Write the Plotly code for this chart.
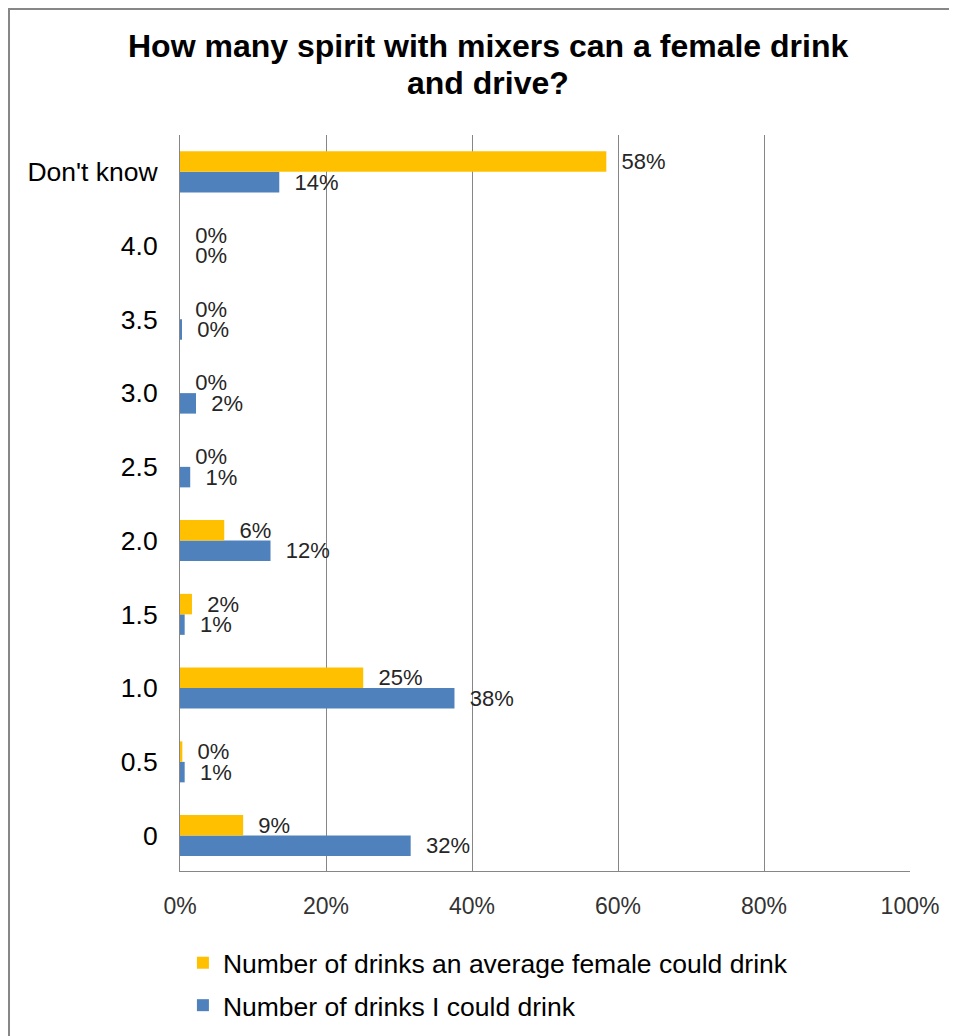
import plotly.graph_objects as go

categories = ["0", "0.5", "1.0", "1.5", "2.0", "2.5", "3.0", "3.5", "4.0", "Don't know"]
female_avg = [8.65, 0.32, 25.1, 1.64, 6.06, 0.0, 0.0, 0.0, 0.0, 58.4]
self_drinks = [31.6, 0.64, 37.6, 0.64, 12.4, 1.4, 2.19, 0.23, 0.0, 13.6]
x_tick_vals = [0, 20, 40, 60, 80, 100]
x_tick_text = ["0%", "20%", "40%", "60%", "80%", "100%"]

series_female = "Number of drinks an average female could drink"
series_self = "Number of drinks I could drink"
title_line1 = "How many spirit with mixers can a female drink"
title_line2 = "and drive?"

FONT = "Liberation Sans, Arial, sans-serif"
NB = "\u00a0\u00a0"


def labels(vals):
    return [f"{NB}{round(v)}%" for v in vals]


fig = go.Figure()
fig.add_trace(go.Bar(
    y=categories, x=self_drinks, orientation="h", name=series_self,
    marker=dict(color="#4F81BD", line=dict(width=0)),
    text=labels(self_drinks), textposition="outside", constraintext="none",
    cliponaxis=False, textfont=dict(family=FONT, size=22, color="#262626"),
    legendgroup="b", legendrank=2,
))
fig.add_trace(go.Bar(
    y=categories, x=female_avg, orientation="h", name=series_female,
    marker=dict(color="#FFC000", line=dict(width=0)),
    text=labels(female_avg), textposition="outside", constraintext="none",
    cliponaxis=False, textfont=dict(family=FONT, size=22, color="#262626"),
    legendgroup="a", legendrank=1,
))

# page body has an 8px margin, so figure coords = screen coords - 8
OFF = 8
W, H = 957 - OFF, 1036 - OFF
L, T = 180 - OFF, 135 - OFF
PW, PH = 730, 736


def py(screen_y):
    return (T + PH - (screen_y - OFF)) / PH


def px(screen_x):
    return (screen_x - OFF - L) / PW


fig.update_layout(
    width=W, height=H,
    margin=dict(l=L, r=W - L - PW, t=T, b=H - T - PH, pad=0, autoexpand=False),
    paper_bgcolor="white", plot_bgcolor="white",
    barmode="group", bargap=0.444, bargroupgap=0,
    xaxis=dict(
        range=[0, 100], tickvals=x_tick_vals, ticktext=x_tick_text,
        showgrid=True, gridcolor="#868686", gridwidth=1,
        zeroline=False, showline=True, linecolor="#868686", linewidth=1,
        ticks="", ticklabelstandoff=14,
        tickfont=dict(family=FONT, size=23, color="#333333"),
        fixedrange=True,
    ),
    yaxis=dict(
        type="category", categoryorder="array", categoryarray=categories,
        range=[-0.48, 9.5], showgrid=False, zeroline=False,
        showline=True, linecolor="#868686", linewidth=1,
        ticks="", ticklabelstandoff=16,
        tickfont=dict(family=FONT, size=26.5, color="black"),
        fixedrange=True,
    ),
    legend=dict(
        orientation="v", x=0.004, xanchor="left",
        yref="container", y=1 - (939 - OFF) / H, yanchor="top",
        traceorder="grouped", tracegroupgap=5,
        font=dict(family=FONT, size=26.5, color="black"),
        bgcolor="rgba(0,0,0,0)",
    ),
    showlegend=True,
    annotations=[
        dict(text=f"<b>{title_line1}</b>", xref="paper", yref="paper",
             x=px(488), y=py(46.4), xanchor="center", yanchor="middle",
             showarrow=False, font=dict(family=FONT, size=32, color="black")),
        dict(text=f"<b>{title_line2}</b>", xref="paper", yref="paper",
             x=px(488), y=py(83.5), xanchor="center", yanchor="middle",
             showarrow=False, font=dict(family=FONT, size=32, color="black")),
    ],
    shapes=[dict(
        type="rect", xref="paper", yref="paper",
        x0=px(9), x1=px(990), y0=py(1080), y1=py(9),
        line=dict(color="#878787", width=2), fillcolor="rgba(0,0,0,0)", layer="below",
    )],
)

fig.write_html("out.html")
